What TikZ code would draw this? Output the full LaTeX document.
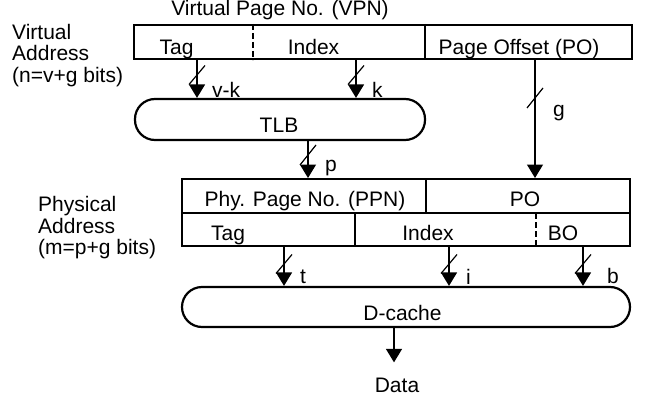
\documentclass[tikz,border=0pt]{standalone}
\usepackage{fontspec}
\setmainfont{Liberation Sans}
\usetikzlibrary{arrows.meta}
\begin{document}
\begin{tikzpicture}[x=1pt,y=-1pt,
  every node/.style={font=\fontsize{21}{22}\selectfont},
  box/.style={draw,line width=2pt,inner sep=0pt},
  pill/.style={draw,line width=2.2pt,rounded corners=20pt,inner sep=0pt},
  divline/.style={line width=1.1pt},
  dashdiv/.style={line width=1.3pt,dash pattern=on 6pt off 3pt},
  conn/.style={line width=1.4pt,-{Triangle[width=16pt,length=13.5pt]}},
  bitslash/.style={line width=1.2pt},
  lbl/.style={inner sep=0pt,anchor=base},
  lblw/.style={inner sep=0pt,anchor=base west}]
\useasboundingbox (0,0) rectangle (652,401);

% left labels
\node[lblw] (v1) at (12,39.5) {Virtual};
\node[lblw] (v2) at (12,61) {Address};
\node[lblw] (v3) at (12,82.5) {(n=v+g bits)};
\node[lblw] (p1) at (38,211.5) {Physical};
\node[lblw] (p2) at (38,233) {Address};
\node[lblw] (p3) at (38,254.5) {(m=p+g bits)};

% virtual address box
\node[lbl] (vpn) at (280,16) {Virtual Page No. (VPN)};
\node[box,minimum width=498pt,minimum height=34pt] (va) at (383,42) {};
\draw[dashdiv] (va.north -| 253,0) -- (va.south -| 253,0);
\draw[divline] (va.north -| 425,0) -- (va.south -| 425,0);
\node[lbl] (vatag) at (176.5,55) {Tag};
\node[lbl] (vaidx) at (313.5,55) {Index};
\node[lbl] (vapo) at (519,55) {Page Offset (PO)};

% TLB
\node[pill,minimum width=290pt,minimum height=41pt] (tlb) at (280,119.5) {};
\node[lbl] (tlbt) at (279,132) {TLB};

% arrows VA -> TLB
\draw[conn] (va.south -| 197,0) -- (tlb.north -| 197,0);
\draw[bitslash] (189,84.5) -- (205,65.5);
\node[lblw] (lvk) at (212,97) {v-k};
\draw[conn] (va.south -| 356,0) -- (tlb.north -| 356,0);
\draw[bitslash] (348,84.5) -- (364,65.5);
\node[lblw] (lk) at (372,97) {k};

% physical address box
\node[box,minimum width=448pt,minimum height=67pt] (pa) at (406,212.5) {};
\coordinate (pamid) at (406,213);
\draw[divline] (pa.west |- pamid) -- (pa.east |- pamid);
\draw[divline] (pa.north -| 426,0) -- (pamid -| 426,0);
\draw[divline] (pamid -| 355,0) -- (pa.south -| 355,0);
\draw[dashdiv] (pamid -| 536,0) -- (pa.south -| 536,0);
\node[lbl] (ppn) at (305,206.5) {Phy. Page No. (PPN)};
\node[lbl] (papo) at (525,206.5) {PO};
\node[lbl] (patag) at (228,240.5) {Tag};
\node[lbl] (paidx) at (428,240.5) {Index};
\node[lbl] (pabo) at (563,240.5) {BO};

% PO -> PA
\draw[conn] (va.south -| 535,0) -- (pa.north -| 535,0);
\draw[bitslash] (527,108) -- (543,88);
\node[lblw] (lg) at (553,116) {g};

% TLB -> PA
\draw[conn] (tlb.south -| 308,0) -- (pa.north -| 308,0);
\draw[bitslash] (300,165) -- (316,145);
\node[lblw] (lp) at (325,171) {p};

% D-cache
\node[pill,minimum width=448pt,minimum height=40pt] (dc) at (406,307) {};
\node[lbl] (dct) at (402.5,320) {D-cache};

\draw[conn] (pa.south -| 284,0) -- (dc.north -| 284,0);
\draw[bitslash] (276,273.5) -- (292,254.5);
\node[lblw] (lt) at (300,283) {t};
\draw[conn] (pa.south -| 449,0) -- (dc.north -| 449,0);
\draw[bitslash] (441,273.5) -- (457,254.5);
\node[lblw] (li) at (466,284) {i};
\draw[conn] (pa.south -| 583,0) -- (dc.north -| 583,0);
\draw[bitslash] (575,273.5) -- (591,254.5);
\node[lblw] (lb) at (607,283) {b};

% data
\node[lbl] (data) at (397,392) {Data};
\draw[conn,shorten >=15pt] (dc.south -| 394,0) -- (data.north -| 394,0);
\end{tikzpicture}
\end{document}
